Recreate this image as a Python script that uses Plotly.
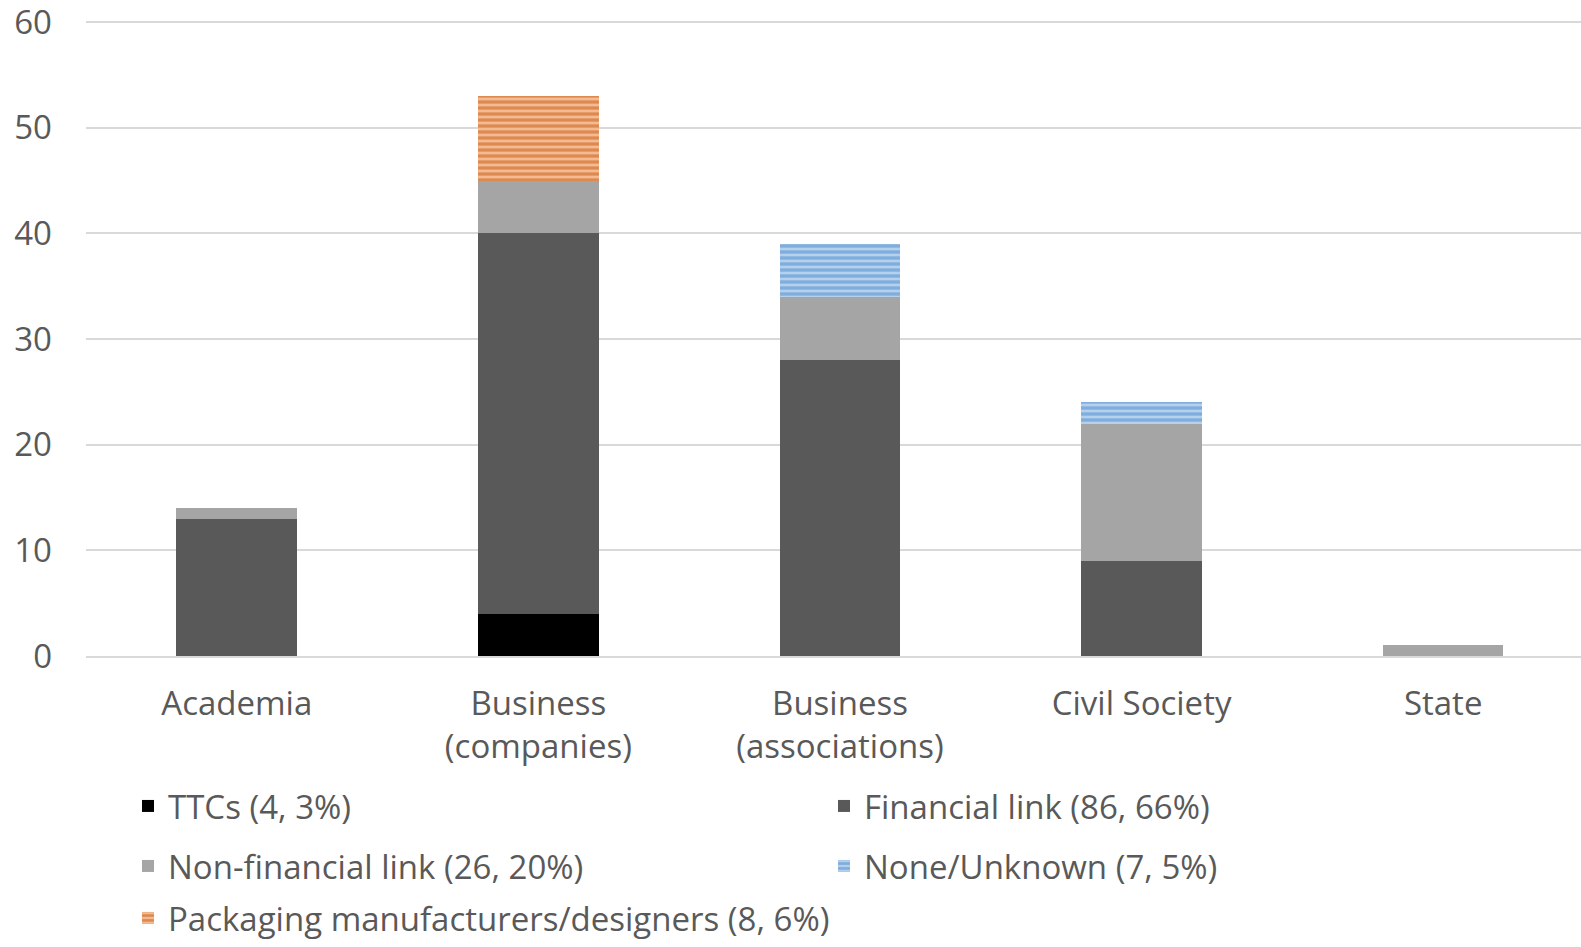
import plotly.graph_objects as go

categories = ["Academia", "Business<br>(companies)", "Business<br>(associations)", "Civil Society", "State"]
ttcs = [0, 4, 0, 0, 0]
financial = [13, 36, 28, 9, 0]
non_financial = [1, 5, 6, 13, 1]
none_unknown = [0, 0, 5, 2, 0]
packaging = [0, 8, 0, 0, 0]

names = ["TTCs (4, 3%)", "Financial link (86, 66%)", "Non-financial link (26, 20%)",
         "None/Unknown (7, 5%)", "Packaging manufacturers/designers (8, 6%)"]

FONT = "Open Sans"
TXT = "#595959"
FS = 33

fig = go.Figure()
fig.add_bar(x=categories, y=ttcs, name=names[0], legend="legend",
            marker=dict(color="#000000", line_width=0))
fig.add_bar(x=categories, y=financial, name=names[1], legend="legend2",
            marker=dict(color="#595959", line_width=0))
fig.add_bar(x=categories, y=non_financial, name=names[2], legend="legend3",
            marker=dict(color="#a5a5a5", line_width=0))
fig.add_bar(x=categories, y=none_unknown, name=names[3], legend="legend4",
            marker=dict(color="#b4d0ec", line_width=0,
                        pattern=dict(shape="-", fgcolor="#4a89cf", bgcolor="#b4d0ec",
                                     size=6, solidity=0.55)))
fig.add_bar(x=categories, y=packaging, name=names[4], legend="legend5",
            marker=dict(color="#f4bb93", line_width=0,
                        pattern=dict(shape="-", fgcolor="#c55a11", bgcolor="#f4bb93",
                                     size=6, solidity=0.55)))

W, H = 1581, 947
ML, MT, MB = 86, 21, 291
PW, PH = W - ML, H - MT - MB


def leg(x_px, y_px):
    return dict(xref="paper", yref="paper", x=(x_px - ML) / PW, y=(H - MB - y_px) / PH,
                xanchor="left", yanchor="middle", bgcolor="rgba(0,0,0,0)",
                font=dict(family=FONT, size=FS, color=TXT), itemclick=False,
                itemdoubleclick=False)


col1, col2 = 128, 824
fig.update_layout(
    barmode="stack",
    bargap=0.6,
    width=W, height=H,
    margin=dict(l=ML, r=0, t=MT, b=MB, pad=0),
    paper_bgcolor="white", plot_bgcolor="white",
    font=dict(family=FONT, size=FS, color=TXT),
    showlegend=True,
    legend=leg(col1, 806),
    legend2=leg(col2, 806),
    legend3=leg(col1, 866),
    legend4=leg(col2, 866),
    legend5=leg(col1, 918),
    xaxis=dict(range=[-0.5, 4.457], showgrid=False, showline=True, linecolor="#d9d9d9",
               linewidth=1.5, ticks="", ticklabelstandoff=18, automargin=False,
               tickfont=dict(family=FONT, size=FS, color=TXT)),
    yaxis=dict(range=[0, 60.1], dtick=10, showgrid=True, gridcolor="#d9d9d9", gridwidth=1.5,
               zeroline=False, showline=False, ticks="", ticklabelstandoff=33,
               automargin=False, ticklabeloverflow="allow",
               tickfont=dict(family=FONT, size=FS, color=TXT)),
)

fig.write_html("out.html")
